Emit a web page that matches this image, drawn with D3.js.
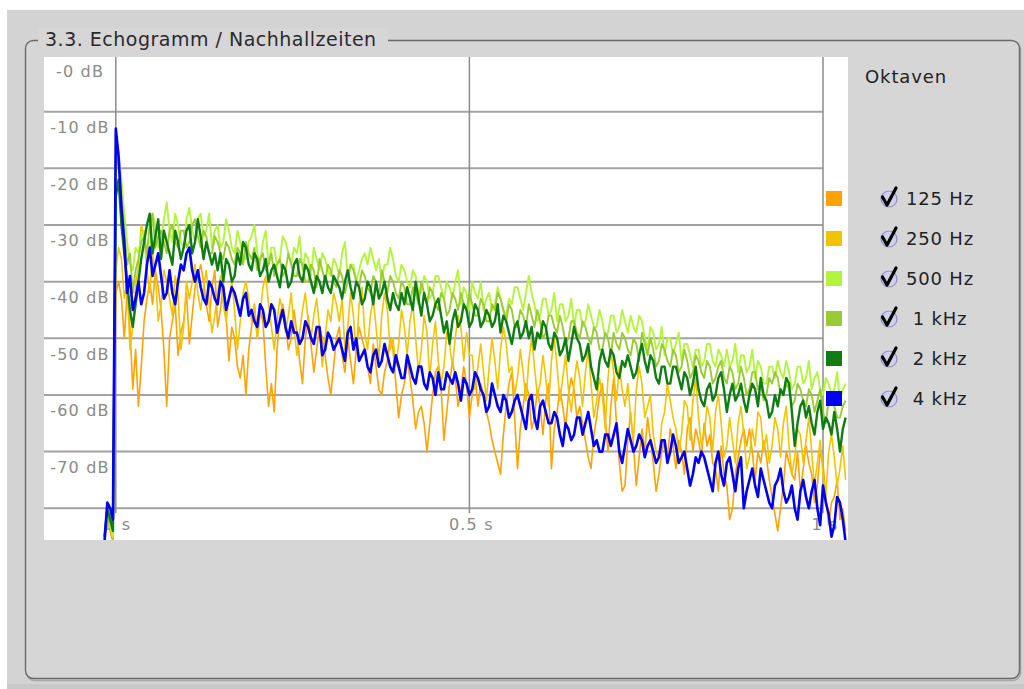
<!DOCTYPE html>
<html>
<head>
<meta charset="utf-8">
<script src="https://cdn.jsdelivr.net/npm/d3@7"></script>
<style>
  html, body { margin: 0; padding: 0; background: #ffffff; }
  svg { display: block; font-family: "DejaVu Sans", Verdana, sans-serif; }
</style>
</head>
<body>
<svg id="chart" width="1024" height="689"></svg>
<script>
// Octave bands shown in the echogram
const bands = ["125 Hz", "250 Hz", "500 Hz", "1 kHz", "2 kHz", "4 kHz"];
const bandColors = ["#ffa300", "#f2c400", "#b2f53c", "#9acb34", "#0f7d12", "#0000f2"];
const bandWidths = [1.6, 1.6, 1.9, 1.9, 2.4, 2.6];

// Sampling of the decay curves (seconds)
const sampleStart = -0.016;
const sampleStep = 0.004;

// Energy decay per band, dB re. direct sound
const level125 = [
  -86, -82, -84, -86, -42, -40, -43, -50, -42, -48,
  -59, -52, -62, -55, -47, -43, -40, -44, -38, -41,
  -45, -52, -62, -50, -47, -44, -53, -49, -47, -42,
  -51, -46, -41, -39, -37, -40, -44, -47, -41, -38,
  -48, -45, -40, -46, -54, -48, -50, -55, -57, -53,
  -60, -52, -48, -44, -50, -45, -47, -55, -62, -58,
  -63, -52, -46, -44, -47, -52, -50, -45, -49, -54,
  -58, -50, -46, -51, -56, -52, -48, -50, -53, -57,
  -60, -55, -50, -48, -53, -56, -50, -54, -58, -52,
  -48, -50, -52, -55, -58, -51, -55, -59, -60, -56,
  -54, -50, -52, -58, -64, -60, -58, -54, -57, -61,
  -66, -63, -62, -65, -70, -65, -60, -56, -55, -59,
  -68, -63, -58, -54, -57, -62, -59, -55, -58, -64,
  -60, -56, -62, -58, -60, -63, -65, -68, -70, -72,
  -74, -67, -62, -58, -56, -64, -73, -66, -62, -58,
  -60, -66, -64, -59, -62, -67, -61, -58, -73, -66,
  -63, -59, -62, -66, -60, -57, -59, -64, -62, -65,
  -68, -71, -73, -67, -64, -60, -58, -64, -70, -62,
  -57, -65, -72, -77, -76, -68, -63, -69, -76, -71,
  -66, -70, -64, -68, -72, -77, -74, -70, -68, -71,
  -66, -69, -73, -68, -70, -74, -66, -64, -70, -66,
  -68, -71, -65, -69, -67, -72, -73, -77, -69, -74,
  -76, -82, -80, -74, -71, -68, -66, -69, -66, -70,
  -75, -70, -72, -68, -71, -75, -78, -81, -84, -80,
  -76, -70, -72, -74, -75, -70, -77, -73, -69, -72,
  -74, -79, -76, -70, -72, -78, -83, -79, -78, -75,
  -82, -80, -84];

const level250 = [
  -85, -81, -83, -85, -38, -34, -36, -43, -40, -52,
  -48, -41, -37, -30, -32, -38, -42, -35, -39, -47,
  -44, -38, -40, -43, -46, -39, -42, -52, -48, -40,
  -43, -40, -37, -42, -45, -41, -38, -44, -49, -46,
  -42, -39, -44, -47, -43, -40, -45, -52, -47, -42,
  -40, -43, -47, -44, -50, -46, -41, -39, -44, -48,
  -52, -47, -43, -45, -49, -46, -42, -48, -53, -49,
  -45, -42, -47, -50, -46, -43, -48, -55, -50, -45,
  -47, -42, -44, -47, -43, -52, -48, -42, -46, -53,
  -44, -41, -49, -52, -46, -43, -48, -54, -46, -42,
  -45, -52, -50, -55, -51, -45, -48, -53, -47, -44,
  -50, -56, -52, -46, -49, -57, -51, -47, -54, -58,
  -55, -49, -51, -55, -50, -46, -48, -54, -49, -53,
  -53, -59, -55, -51, -56, -61, -55, -50, -54, -59,
  -52, -48, -51, -56, -55, -60, -57, -52, -56, -61,
  -54, -50, -55, -60, -58, -53, -57, -62, -54, -50,
  -55, -61, -57, -53, -59, -63, -58, -54, -57, -62,
  -56, -52, -58, -64, -61, -57, -60, -66, -57, -52,
  -56, -61, -55, -59, -62, -58, -64, -68, -59, -55,
  -58, -64, -62, -60, -67, -70, -71, -65, -63, -58,
  -61, -64, -66, -70, -67, -61, -62, -68, -61, -57,
  -64, -69, -67, -62, -64, -70, -63, -60, -65, -71,
  -69, -64, -68, -72, -65, -62, -67, -73, -71, -66,
  -69, -63, -64, -70, -67, -72, -69, -64, -66, -71,
  -65, -62, -69, -74, -71, -66, -67, -72, -68, -64,
  -70, -76, -72, -68, -74, -78, -70, -67, -71, -76,
  -73, -69, -75];

const level500 = [
  -84, -81, -83, -85, -14, -17, -22, -28, -33, -37,
  -38, -34, -35, -32, -31, -36, -35, -28, -30, -34,
  -33, -29, -26, -31, -33, -28, -30, -33, -34, -29,
  -27, -31, -33, -29, -28, -32, -31, -28, -34, -31,
  -30, -34, -33, -29, -31, -34, -35, -31, -33, -36,
  -36, -33, -32, -30, -35, -37, -33, -31, -37, -34,
  -34, -37, -36, -32, -33, -35, -37, -34, -35, -32,
  -38, -35, -36, -39, -34, -36, -38, -35, -36, -38,
  -39, -36, -37, -39, -35, -33, -39, -37, -37, -40,
  -38, -36, -35, -37, -34, -36, -38, -36, -40, -37,
  -37, -34, -36, -39, -40, -37, -38, -40, -41, -38,
  -39, -42, -42, -39, -40, -43, -42, -39, -39, -41,
  -43, -40, -41, -43, -40, -38, -44, -41, -42, -45,
  -40, -42, -43, -40, -45, -43, -42, -45, -44, -41,
  -43, -45, -46, -43, -44, -41, -41, -43, -45, -42,
  -39, -42, -44, -47, -46, -43, -43, -46, -45, -42,
  -47, -44, -44, -47, -46, -43, -48, -45, -45, -48,
  -47, -44, -46, -48, -48, -45, -47, -50, -49, -46,
  -46, -49, -48, -45, -47, -49, -46, -48, -49, -46,
  -47, -50, -52, -48, -49, -52, -51, -48, -53, -50,
  -50, -53, -51, -49, -54, -51, -51, -53, -55, -52,
  -52, -55, -54, -51, -51, -54, -55, -52, -53, -55,
  -52, -55, -54, -51, -56, -53, -53, -56, -55, -52,
  -57, -54, -55, -58, -58, -55, -55, -57, -54, -56,
  -57, -54, -56, -59, -58, -55, -55, -58, -57, -54,
  -59, -57, -56, -59, -60, -57, -58, -60, -59, -56,
  -61, -59, -58];

const level1k = [
  -85, -83, -81, -84, -16, -20, -25, -31, -37, -35,
  -42, -38, -36, -33, -32, -35, -30, -28, -34, -32,
  -31, -33, -35, -31, -30, -33, -34, -31, -31, -34,
  -33, -30, -29, -32, -34, -31, -32, -35, -35, -32,
  -33, -35, -36, -33, -34, -36, -37, -34, -35, -37,
  -33, -35, -36, -34, -38, -36, -35, -38, -37, -35,
  -39, -37, -36, -39, -38, -35, -37, -39, -39, -36,
  -37, -40, -40, -37, -38, -41, -36, -38, -40, -37,
  -38, -40, -41, -38, -39, -42, -40, -37, -38, -40,
  -41, -38, -39, -41, -42, -39, -40, -43, -38, -40,
  -42, -39, -40, -42, -43, -40, -41, -44, -44, -41,
  -42, -44, -40, -42, -44, -41, -42, -44, -45, -42,
  -43, -46, -45, -42, -43, -45, -42, -44, -45, -42,
  -44, -46, -46, -43, -44, -47, -47, -44, -45, -42,
  -43, -45, -47, -44, -45, -48, -48, -45, -46, -48,
  -44, -46, -48, -45, -47, -50, -49, -46, -46, -48,
  -49, -46, -48, -51, -50, -47, -47, -49, -50, -47,
  -48, -50, -51, -48, -49, -52, -52, -49, -50, -53,
  -49, -51, -52, -49, -50, -52, -53, -50, -51, -54,
  -49, -51, -53, -50, -52, -55, -54, -51, -52, -54,
  -55, -52, -53, -56, -55, -52, -54, -57, -56, -53,
  -54, -56, -57, -54, -55, -58, -57, -55, -54, -57,
  -58, -55, -56, -59, -58, -55, -57, -60, -59, -56,
  -56, -59, -58, -61, -60, -57, -58, -56, -57, -60,
  -60, -58, -59, -62, -61, -58, -59, -61, -62, -59,
  -60, -63, -61, -59, -63, -65, -61, -60, -62, -64,
  -64, -62, -61];

const level2k = [
  -85, -80, -82, -84, -25, -22, -30, -35, -40, -45,
  -48, -44, -40, -36, -33, -30, -28, -35, -32, -29,
  -36, -31, -33, -35, -37, -31, -33, -36, -34, -31,
  -30, -35, -33, -29, -32, -36, -33, -35, -37, -35,
  -38, -35, -40, -36, -37, -40, -39, -35, -37, -33,
  -34, -37, -38, -35, -36, -39, -38, -36, -40, -38,
  -37, -39, -41, -37, -38, -41, -40, -37, -36, -39,
  -40, -37, -38, -40, -42, -39, -40, -42, -39, -41,
  -42, -39, -40, -41, -43, -40, -38, -41, -43, -40,
  -41, -44, -43, -40, -41, -44, -40, -43, -42, -40,
  -43, -45, -42, -44, -45, -42, -44, -41, -43, -45,
  -40, -43, -46, -42, -44, -47, -46, -44, -43, -46,
  -49, -47, -51, -47, -45, -48, -47, -44, -45, -48,
  -47, -44, -45, -48, -47, -45, -46, -48, -47, -44,
  -49, -46, -47, -49, -51, -48, -47, -50, -49, -47,
  -50, -48, -52, -49, -50, -47, -48, -51, -52, -49,
  -50, -53, -52, -50, -54, -51, -48, -50, -51, -54,
  -53, -51, -55, -57, -59, -54, -52, -54, -55, -52,
  -53, -56, -57, -54, -55, -53, -55, -57, -56, -53,
  -51, -54, -56, -53, -54, -57, -58, -55, -55, -58,
  -58, -55, -55, -57, -59, -56, -57, -60, -58, -55,
  -59, -61, -62, -59, -58, -61, -60, -57, -56, -59,
  -63, -60, -58, -61, -60, -58, -61, -63, -60, -58,
  -59, -62, -57, -60, -61, -64, -63, -60, -62, -59,
  -60, -57, -58, -63, -69, -65, -62, -61, -64, -62,
  -65, -67, -63, -61, -66, -64, -65, -67, -63, -66,
  -70, -66, -64];

const level4k = [
  -86, -79, -80, -82, -13, -18, -27, -33, -42, -39,
  -45, -43, -40, -44, -42, -37, -34, -39, -37, -35,
  -39, -43, -42, -38, -42, -44, -40, -37, -38, -35,
  -34, -38, -40, -38, -41, -43, -44, -40, -41, -43,
  -44, -40, -41, -45, -43, -41, -42, -44, -46, -43,
  -42, -46, -45, -47, -48, -44, -45, -48, -47, -44,
  -45, -49, -47, -45, -48, -50, -47, -49, -49, -51,
  -50, -47, -48, -50, -51, -48, -48, -53, -52, -49,
  -50, -52, -51, -50, -52, -54, -49, -48, -52, -50,
  -54, -53, -52, -55, -56, -53, -52, -55, -54, -51,
  -53, -55, -56, -53, -55, -57, -57, -53, -55, -57,
  -58, -55, -55, -58, -59, -56, -57, -60, -56, -59,
  -59, -56, -57, -58, -56, -58, -61, -57, -58, -60,
  -59, -56, -57, -59, -60, -63, -62, -58, -60, -62,
  -63, -60, -61, -64, -63, -61, -60, -62, -64, -66,
  -61, -60, -64, -66, -62, -61, -63, -65, -65, -63,
  -64, -67, -69, -65, -66, -68, -67, -64, -64, -67,
  -65, -63, -66, -69, -68, -70, -70, -67, -67, -69,
  -67, -65, -70, -72, -69, -66, -68, -70, -69, -67,
  -68, -71, -69, -68, -70, -72, -71, -68, -68, -72,
  -70, -67, -69, -72, -71, -70, -73, -76, -74, -71,
  -72, -70, -71, -73, -75, -77, -72, -70, -74, -76,
  -72, -71, -74, -77, -73, -71, -80, -77, -75, -73,
  -76, -78, -73, -75, -77, -79, -80, -76, -75, -73,
  -77, -79, -78, -76, -80, -82, -77, -75, -78, -80,
  -77, -75, -80, -83, -76, -79, -81, -85, -83, -78,
  -79, -82, -86];

const bandLevels = [level125, level250, level500, level1k, level2k, level4k];

// Axis ticks
const yGridValues = [-10, -20, -30, -40, -50, -60, -70, -80];
const yTickValues = [0, -10, -20, -30, -40, -50, -60, -70];
const yTickLabels = ["-0 dB", "-10 dB", "-20 dB", "-30 dB", "-40 dB", "-50 dB", "-60 dB", "-70 dB"];
const xTickValues = [0, 0.5, 1];
const xTickLabels = ["0 s", "0.5 s", "1 s"];

const titleText = "3.3. Echogramm / Nachhallzeiten";
const legendTitle = "Oktaven";

const times = d3.range(level4k.length).map(i => +(sampleStart + i * sampleStep).toFixed(3));

const svg = d3.select("#chart");

// plot box
const plot = { left: 44, top: 57, right: 848, bottom: 540 };
const x = d3.scaleLinear().domain([0, 1]).range([115.8, 823]);
const y = d3.scaleLinear().domain([0, -85.6]).range([55, 540]);

// page background
svg.append("rect").attr("x", 7).attr("y", 10).attr("width", 1017).attr("height", 679).attr("fill", "#d3d3d3");
svg.append("rect").attr("x", 7).attr("y", 684).attr("width", 1017).attr("height", 5).attr("fill", "#c8c8c8");

// group box with rounded corners
svg.append("rect")
  .attr("x", 26.5).attr("y", 41.5).attr("width", 994).attr("height", 639).attr("rx", 8)
  .attr("fill", "none").attr("stroke", "#a8a8a8").attr("stroke-width", 1.5);
svg.append("rect")
  .attr("x", 25.5).attr("y", 40.5).attr("width", 994).attr("height", 638).attr("rx", 8)
  .attr("fill", "#d6d6d6").attr("stroke", "#6a6a6a").attr("stroke-width", 1.4);

// caption of the group box
svg.append("rect").attr("x", 38).attr("y", 28).attr("width", 350).attr("height", 22).attr("fill", "#d6d6d6");
svg.append("text")
  .attr("x", 45).attr("y", 46)
  .attr("font-size", 19).attr("letter-spacing", 0.5)
  .attr("fill", "#2a2a2a")
  .text(titleText);

// white plotting area
svg.append("rect")
  .attr("x", plot.left).attr("y", plot.top)
  .attr("width", plot.right - plot.left).attr("height", plot.bottom - plot.top)
  .attr("fill", "#ffffff");

svg.append("clipPath").attr("id", "plotClip")
  .append("rect")
  .attr("x", plot.left).attr("y", plot.top)
  .attr("width", plot.right - plot.left).attr("height", plot.bottom - plot.top);

// horizontal grid
svg.append("g").selectAll("line")
  .data(yGridValues).join("line")
  .attr("x1", plot.left).attr("x2", x(1))
  .attr("y1", d => y(d)).attr("y2", d => y(d))
  .attr("stroke", "#a2a2a2").attr("stroke-width", 2);

// vertical grid
svg.append("g").selectAll("line")
  .data(xTickValues).join("line")
  .attr("x1", d => x(d)).attr("x2", d => x(d))
  .attr("y1", plot.top).attr("y2", y(-80) + 5)
  .attr("stroke", "#8c8c8c").attr("stroke-width", 1.5);

// level labels
svg.append("g").selectAll("text")
  .data(yTickValues).join("text")
  .attr("x", 80).attr("y", d => y(d) + 21.5)
  .attr("text-anchor", "middle")
  .attr("font-size", 16).attr("letter-spacing", 1.2)
  .attr("fill", "#8a8a8a")
  .text((d, i) => yTickLabels[i]);

// time labels
svg.append("g").selectAll("text")
  .data(xTickValues).join("text")
  .attr("x", d => x(d) + 2).attr("y", y(-80) + 22)
  .attr("text-anchor", "middle")
  .attr("font-size", 16).attr("letter-spacing", 1.2)
  .attr("fill", "#8a8a8a")
  .text((d, i) => xTickLabels[i]);

// decay curves
const line = d3.line()
  .x((d, i) => x(times[i]))
  .y(d => y(d));

svg.append("g").attr("clip-path", "url(#plotClip)")
  .selectAll("path")
  .data(bandLevels).join("path")
  .attr("d", d => line(d))
  .attr("fill", "none")
  .attr("stroke", (d, i) => bandColors[i])
  .attr("stroke-width", (d, i) => bandWidths[i])
  .attr("stroke-linejoin", "round");

// legend
svg.append("text")
  .attr("x", 865).attr("y", 83)
  .attr("font-size", 18).attr("letter-spacing", 0.9)
  .attr("fill", "#222")
  .text(legendTitle);

const legendY = d3.scalePoint().domain(bands).range([198, 398]);

const item = svg.append("g").selectAll("g")
  .data(bands).join("g")
  .attr("transform", d => `translate(0,${legendY(d)})`);

item.append("rect")
  .attr("x", 826).attr("y", -7).attr("width", 16).attr("height", 15)
  .attr("fill", (d, i) => bandColors[i]);

item.append("circle")
  .attr("cx", 889).attr("cy", 1).attr("r", 8)
  .attr("fill", "#d0d0ec").attr("stroke", "#8f8fc4").attr("stroke-width", 1.2);

item.append("path")
  .attr("d", "M882.5,-1 L887,7 L896,-10")
  .attr("fill", "none").attr("stroke", "#000").attr("stroke-width", 3.2)
  .attr("stroke-linecap", "round").attr("stroke-linejoin", "round");

item.append("text")
  .attr("x", 940).attr("y", 7)
  .attr("text-anchor", "middle")
  .attr("font-size", 18).attr("letter-spacing", 0.8)
  .attr("fill", "#222")
  .text(d => d);
</script>
</body>
</html>
